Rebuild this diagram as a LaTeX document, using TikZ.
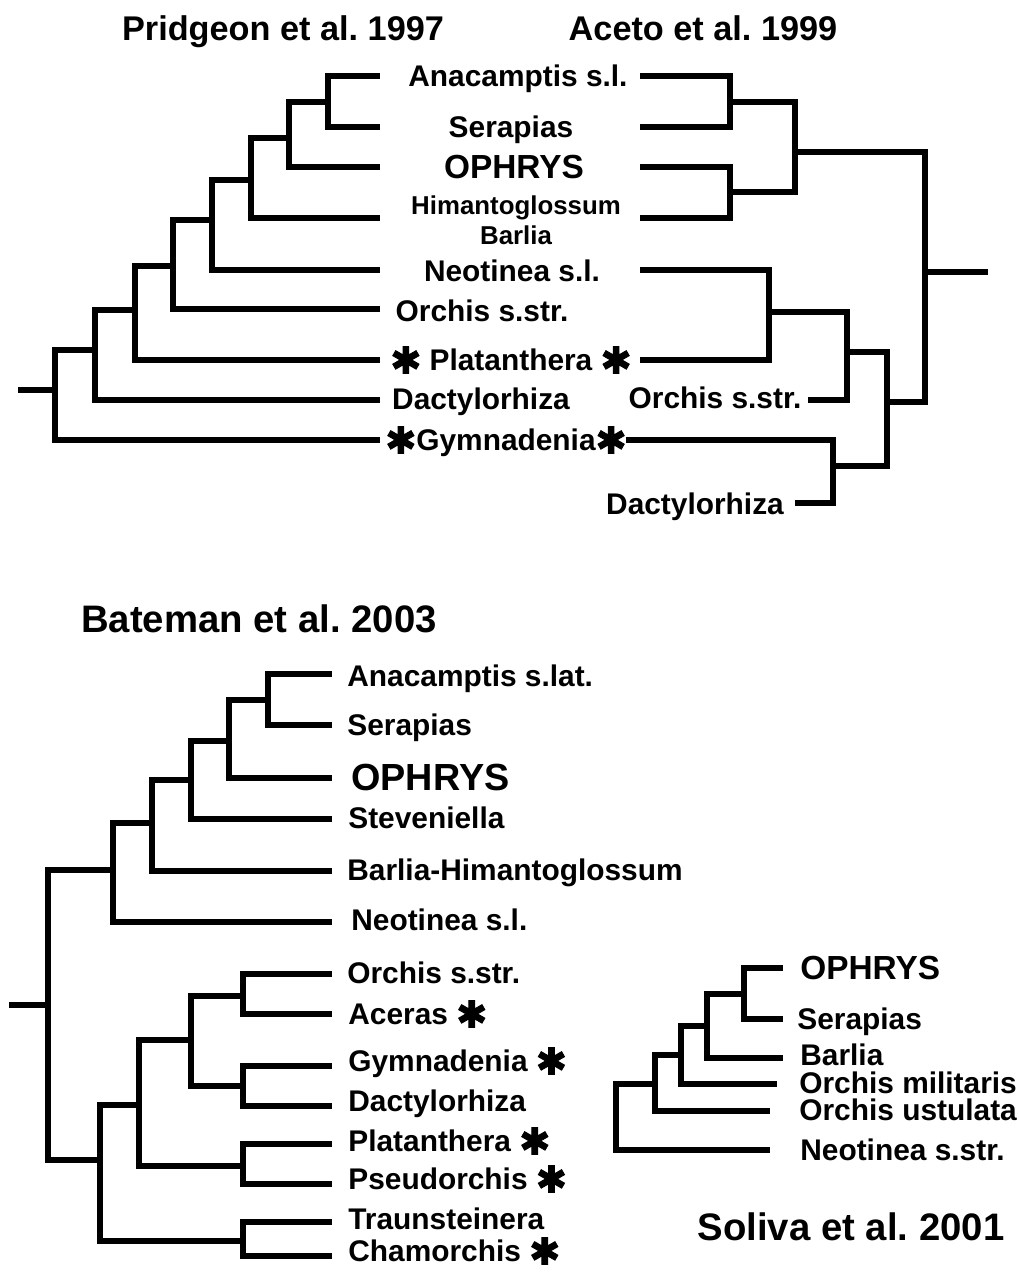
\documentclass[tikz,border=0pt]{standalone}
\usepackage{fontspec}
\setmainfont{Liberation Sans}
\newfontfamily\astfont{DejaVu Sans}[FakeBold=2.5]
\usetikzlibrary{positioning}
\newcommand{\hast}{\raisebox{-1.5pt}{\astfont\fontsize{21}{21}\selectfont ✱}}
\frenchspacing

\begin{document}
\begin{tikzpicture}[
  x=0.2mm, y=-0.2mm,
  every node/.style={inner sep=0pt, text depth=0pt},
  branch/.style={line width=3.1pt},
  title/.style={font=\bfseries\fontsize{19.5}{20}\selectfont, text height=14pt},
  bigtitle/.style={font=\bfseries\fontsize{21.8}{22}\selectfont, text height=15.7pt},
  leaf/.style={font=\bfseries\fontsize{17}{18}\selectfont, text height=12.2pt},
  smallleaf/.style={font=\bfseries\fontsize{14.7}{15}\selectfont, text height=10.6pt},
  bigleaf/.style={font=\bfseries\fontsize{19}{20}\selectfont, text height=13.7pt},
  biggerleaf/.style={font=\bfseries\fontsize{21.5}{22}\selectfont, text height=15.5pt},
  bleaf/.style={leaf, anchor=west},
]
\useasboundingbox (0,0) rectangle (1019,1274);

% Titles
\node[title] (tPri) at (283,28) {Pridgeon et al. 1997};
\node[title] (tAce) at (703,28) {Aceto et al. 1999};
\node[bigtitle] (tBat) at (259,619) {Bateman et al. 2003};
\node[bigtitle] (tSol) at (851,1227) {Soliva et al. 2001};

% Shared taxa between the two upper trees
\node[leaf] (ana) at (518,76) {Anacamptis s.l.};
\node[leaf] (ser) at (511,127) {Serapias};
\node[bigleaf] (oph) at (514,166) {OPHRYS};
\node[smallleaf] (him) at (516,205) {Himantoglossum};
\node[smallleaf] (bar) at (516,235) {Barlia};
\node[leaf] (neo) at (512,271) {Neotinea s.l.};
\node[leaf] (orc) at (482,311) {Orchis s.str.};
\node[leaf] (pla) at (511,360) {\hast\ Platanthera \hast};
\node[leaf] (dac) at (481,399) {Dactylorhiza};
\node[leaf] (gym) at (506,440) {\hast Gymnadenia\hast};
\node[leaf] (orcA) at (715,398) {Orchis s.str.};
\node[leaf] (dacA) at (695,504) {Dactylorhiza};

% Pridgeon et al. 1997 (left)
\coordinate (pA) at (380,76);
\coordinate (pS) at (380,127);
\coordinate (pO) at (380,167);
\coordinate (pH) at (380,218);
\coordinate (pN) at (380,270);
\coordinate (pOr) at (380,309);
\coordinate (pPl) at (380,360);
\coordinate (pD) at (380,400);
\coordinate (pG) at (380,440);
\coordinate (p1) at (328,102);
\coordinate (p2) at (289,138);
\coordinate (p3) at (251,180);
\coordinate (p4) at (212,220);
\coordinate (p5) at (173,266);
\coordinate (p6) at (135,310);
\coordinate (p7) at (95,350);
\coordinate (p8) at (55,390);
\coordinate (pRoot) at (18,390);

\draw[branch] (p1) |- (pA) (p1) |- (pS);
\draw[branch] (p2) |- (p1) (p2) |- (pO);
\draw[branch] (p3) |- (p2) (p3) |- (pH);
\draw[branch] (p4) |- (p3) (p4) |- (pN);
\draw[branch] (p5) |- (p4) (p5) |- (pOr);
\draw[branch] (p6) |- (p5) (p6) |- (pPl);
\draw[branch] (p7) |- (p6) (p7) |- (pD);
\draw[branch] (p8) |- (p7) (p8) |- (pG);
\draw[branch] (pRoot) -- (p8);

% Aceto et al. 1999 (right)
\coordinate (aA) at (640,76);
\coordinate (aS) at (640,127);
\coordinate (aO) at (640,167);
\coordinate (aH) at (640,218);
\coordinate (aN) at (640,270);
\coordinate (aPl) at (640,360);
\coordinate (aOr) at (808,400);
\coordinate (aG) at (626,440);
\coordinate (aD) at (795,503);
\coordinate (a1) at (730,102);
\coordinate (a2) at (730,192);
\coordinate (a3) at (795,152);
\coordinate (a4) at (769,312);
\coordinate (a5) at (847,352);
\coordinate (a6) at (833,466);
\coordinate (a7) at (887,402);
\coordinate (a8) at (925,272);
\coordinate (aRoot) at (988,272);

\draw[branch] (a1) |- (aA) (a1) |- (aS);
\draw[branch] (a2) |- (aO) (a2) |- (aH);
\draw[branch] (a3) |- (a1) (a3) |- (a2);
\draw[branch] (a4) |- (aN) (a4) |- (aPl);
\draw[branch] (a5) |- (a4) (a5) |- (aOr);
\draw[branch] (a6) |- (aG) (a6) |- (aD);
\draw[branch] (a7) |- (a5) (a7) |- (a6);
\draw[branch] (a8) |- (a3) (a8) |- (a7);
\draw[branch] (a8) -- (aRoot);

% Bateman et al. 2003
\node[bleaf] (bAna) at (347,676) {Anacamptis s.lat.};
\node[bleaf] (bSer) at (347,725) {Serapias};
\node[biggerleaf, anchor=west] (bOph) at (351,777) {OPHRYS};
\node[bleaf] (bSte) at (348,818) {Steveniella};
\node[bleaf] (bBar) at (347,870) {Barlia-Himantoglossum};
\node[bleaf] (bNeo) at (351,920) {Neotinea s.l.};
\node[bleaf] (bOrc) at (347,973) {Orchis s.str.};
\node[bleaf] (bAce) at (348,1014) {Aceras \hast};
\node[bleaf] (bGym) at (348,1061) {Gymnadenia \hast};
\node[bleaf] (bDac) at (348,1101) {Dactylorhiza};
\node[bleaf] (bPla) at (348,1141) {Platanthera \hast};
\node[bleaf] (bPse) at (348,1179) {Pseudorchis \hast};
\node[bleaf] (bTra) at (348,1219) {Traunsteinera};
\node[bleaf] (bCha) at (348,1251) {Chamorchis \hast};

\coordinate (bA) at (332,674);
\coordinate (bS) at (332,725);
\coordinate (bO) at (332,778);
\coordinate (bSt) at (332,819);
\coordinate (bB) at (332,871);
\coordinate (bN) at (332,922);
\coordinate (bOr) at (332,974);
\coordinate (bAc) at (332,1014);
\coordinate (bG) at (332,1066);
\coordinate (bD) at (332,1106);
\coordinate (bPl) at (332,1144);
\coordinate (bPs) at (332,1184);
\coordinate (bT) at (332,1222);
\coordinate (bC) at (332,1256);
\coordinate (b1) at (268,700);
\coordinate (b2) at (229,741);
\coordinate (b3) at (191,780);
\coordinate (b4) at (152,823);
\coordinate (b5) at (113,870);
\coordinate (b6) at (243,996);
\coordinate (b7) at (243,1086);
\coordinate (b8) at (191,1040);
\coordinate (b9) at (243,1166);
\coordinate (b10) at (139,1105);
\coordinate (b11) at (243,1241);
\coordinate (b12) at (100,1160);
\coordinate (b13) at (48,1005);
\coordinate (bRoot) at (9,1005);

\draw[branch] (b1) |- (bA) (b1) |- (bS);
\draw[branch] (b2) |- (b1) (b2) |- (bO);
\draw[branch] (b3) |- (b2) (b3) |- (bSt);
\draw[branch] (b4) |- (b3) (b4) |- (bB);
\draw[branch] (b5) |- (b4) (b5) |- (bN);
\draw[branch] (b6) |- (bOr) (b6) |- (bAc);
\draw[branch] (b7) |- (bG) (b7) |- (bD);
\draw[branch] (b8) |- (b6) (b8) |- (b7);
\draw[branch] (b9) |- (bPl) (b9) |- (bPs);
\draw[branch] (b10) |- (b8) (b10) |- (b9);
\draw[branch] (b11) |- (bT) (b11) |- (bC);
\draw[branch] (b12) |- (b10) (b12) |- (b11);
\draw[branch] (b13) |- (b5) (b13) |- (b12);
\draw[branch] (bRoot) -- (b13);

% Soliva et al. 2001
\node[bigleaf, anchor=west] (sOph) at (800,967) {OPHRYS};
\node[leaf, anchor=west] (sSer) at (797,1019) {Serapias};
\node[leaf, anchor=west] (sBar) at (800,1055) {Barlia};
\node[leaf, anchor=west] (sMil) at (799,1083) {Orchis militaris};
\node[leaf, anchor=west] (sUst) at (799,1110) {Orchis ustulata};
\node[leaf, anchor=west] (sNeo) at (800,1150) {Neotinea s.str.};

\coordinate (sO) at (783,968);
\coordinate (sS) at (783,1019);
\coordinate (sB) at (783,1058);
\coordinate (sM) at (777,1084);
\coordinate (sU) at (770,1111);
\coordinate (sN) at (770,1150);
\coordinate (s1) at (744,994);
\coordinate (s2) at (707,1026);
\coordinate (s3) at (681,1055);
\coordinate (s4) at (655,1084);
\coordinate (s5) at (616,1117);

\draw[branch] (s1) |- (sO) (s1) |- (sS);
\draw[branch] (s2) |- (s1) (s2) |- (sB);
\draw[branch] (s3) |- (s2) (s3) |- (sM);
\draw[branch] (s4) |- (s3) (s4) |- (sU);
\draw[branch] (s5) |- (s4) (s5) |- (sN);

\end{tikzpicture}
\end{document}
